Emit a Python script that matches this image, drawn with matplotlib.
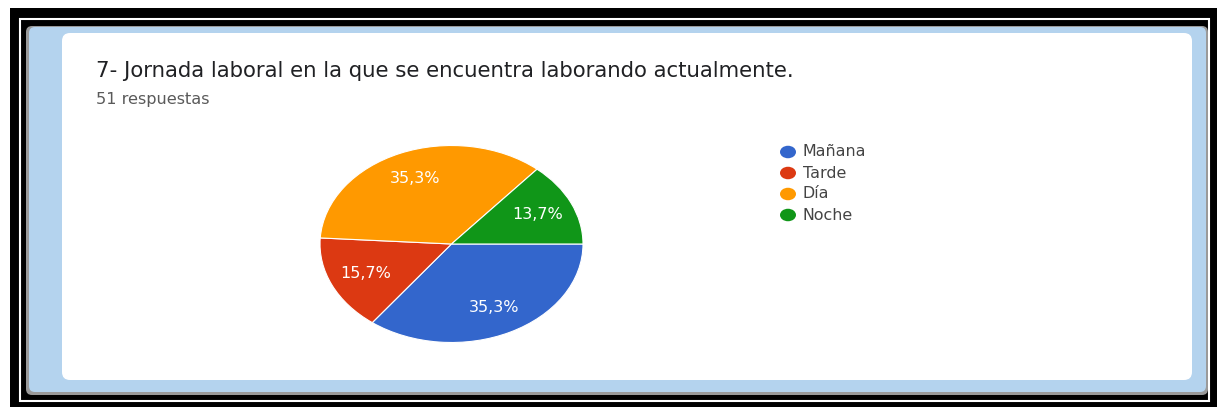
import matplotlib
matplotlib.use("Agg")
import matplotlib.pyplot as plt
from matplotlib.patches import Rectangle, FancyBboxPatch, Ellipse

plt.rcParams['font.family'] = ['DejaVu Sans']

## Data

categories = ['Mañana', 'Tarde', 'Día', 'Noche']
counts = [18, 8, 18, 7]
colors = ['#3366cc', '#dc3912', '#ff9900', '#109618']

title = '7- Jornada laboral en la que se encuentra laborando actualmente.'
subtitle = f'{sum(counts)} respuestas'

W, H = 1217, 407

fig = plt.figure(figsize=(W / 100, H / 100), dpi=100)
fig.patch.set_facecolor('white')

# Background layer in pixel coordinates (frame, blue panel, white card)
bg = fig.add_axes([0, 0, 1, 1])
bg.set_xlim(0, W)
bg.set_ylim(H, 0)
bg.axis('off')

bg.add_patch(Rectangle((10, 8), W - 10, H - 8, facecolor='black', edgecolor='none'))
bg.add_patch(Rectangle((20, 19), W - 28, 382, facecolor='none', edgecolor='white', linewidth=1.5))
bg.add_patch(FancyBboxPatch((26, 26), 1182, 369, boxstyle='round,pad=0,rounding_size=6',
                            facecolor='#9a9a9a', edgecolor='none'))
bg.add_patch(FancyBboxPatch((29, 27), 1177, 365, boxstyle='round,pad=0,rounding_size=6',
                            facecolor='#b4d3ee', edgecolor='none'))
bg.add_patch(FancyBboxPatch((62, 33), 1130, 347, boxstyle='round,pad=0,rounding_size=8',
                            facecolor='white', edgecolor='none'))

bg.text(96, 77, title, fontsize=15.3, color='#202124', va='baseline', ha='left')
bg.text(96, 104, subtitle, fontsize=11.6, color='#5a5a5a', va='baseline', ha='left')

# Legend drawn by hand: round markers with grey labels
leg_y = [152, 173, 194, 215]
for name, col, y in zip(categories, colors, leg_y):
    bg.add_patch(Ellipse((788, y), 16, 12.5, facecolor=col, edgecolor='none'))
    bg.text(803, y, name, fontsize=11.4, color='#444444', va='center', ha='left')

## Pie chart (stretched horizontally, ellipse on screen)

cx, cy, rx, ry = 451.5, 244, 131.5, 98.5
pie_ax = fig.add_axes([(cx - rx) / W, 1 - (cy + ry) / H, 2 * rx / W, 2 * ry / H])
wedges, texts, autotexts = pie_ax.pie(
    counts, colors=colors, startangle=0, counterclock=False,
    autopct=lambda p: f'{p:.1f}%'.replace('.', ','), pctdistance=0.72,
    wedgeprops=dict(edgecolor='white', linewidth=0.8),
    textprops=dict(color='white', fontsize=11.5))
pie_ax.set_aspect('auto')
pie_ax.set_xlim(-1, 1)
pie_ax.set_ylim(-1, 1)
pie_ax.axis('off')

fig.savefig('out.png', dpi=100, facecolor=fig.get_facecolor())
